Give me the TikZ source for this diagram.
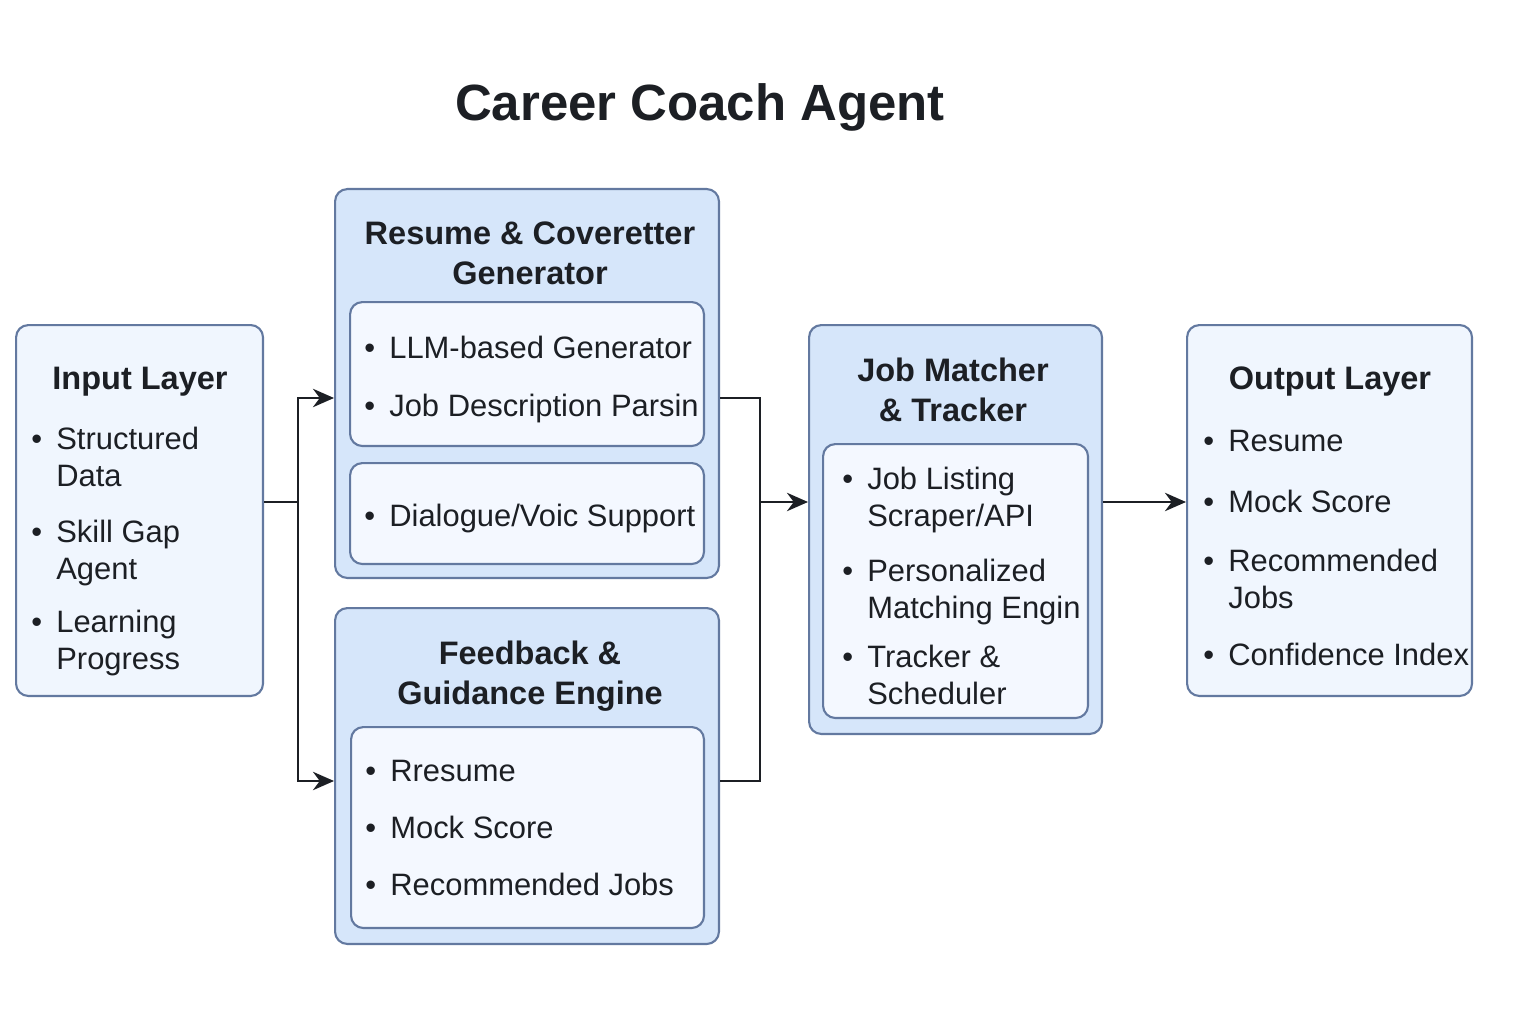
\documentclass[tikz,border=0pt]{standalone}
\usepackage{fontspec}
\setmainfont{Liberation Sans}
\usetikzlibrary{arrows.meta,positioning}
\definecolor{edge}{HTML}{6379A0}
\definecolor{paleblue}{HTML}{F0F6FE}
\definecolor{midblue}{HTML}{D6E6FA}
\definecolor{innerblue}{HTML}{F4F8FF}
\definecolor{ink}{HTML}{1C1F24}
\newcommand{\bul}{\llap{\textbullet\hspace{8pt}}}

\begin{document}
\begin{tikzpicture}[x=0.02cm,y=-0.02cm,
  layer/.style={draw=edge,fill=paleblue,line width=1.2pt,rounded corners=7pt,
    anchor=north west,inner sep=0pt},
  module/.style={layer,fill=midblue},
  inbox/.style={layer,fill=innerblue},
  head/.style={anchor=base,align=center,text=ink,
    font=\fontsize{18.5}{22.5}\selectfont\bfseries},
  entry/.style={anchor=base west,align=left,text=ink,inner sep=0pt,
    font=\fontsize{17.6}{20.5}\selectfont},
  wire/.style={draw=ink,line width=1.1pt},
  feed/.style={wire,-{Stealth[length=12pt,width=10.5pt]}}]
  \useasboundingbox (0,0) rectangle (1536,1024);

  % title (base of a multi-line node is its last line)
  \node[anchor=base,text=ink,font=\fontsize{29}{36}\selectfont\bfseries]
    (title) at (700,121) {Career Coach Agent};

  % input layer
  \node[layer,minimum width=4.94cm,minimum height=7.42cm] (input) at (15,324) {};
  \node[head] (inhead) at (140,389) {Input Layer};
  \node[entry] (in1) at (56,486) {\bul Structured\\Data};
  \node[entry] (in2) at (56,579) {\bul Skill Gap\\Agent};
  \node[entry] (in3) at (56,669) {\bul Learning\\Progress};

  % resume and cover letter generator
  \node[module,minimum width=7.68cm,minimum height=7.78cm] (resume) at (334,188) {};
  \node[head] (reshead) at (530,284) {Resume \& Coveretter\\Generator};
  \node[inbox,minimum width=7.08cm,minimum height=2.88cm] (resgen) at (349,301) {};
  \node[entry] (res1) at (389,358) {\bul LLM-based Generator};
  \node[entry] (res2) at (389,416) {\bul Job Description Parsin};
  \node[inbox,minimum width=7.08cm,minimum height=2.02cm] (resvoice) at (349,462) {};
  \node[entry] (res3) at (389,526) {\bul Dialogue/Voic Support};

  % feedback and guidance engine
  \node[module,minimum width=7.68cm,minimum height=6.72cm] (feedback) at (334,607) {};
  \node[head] (fbhead) at (530,704) {Feedback \&\\Guidance Engine};
  \node[inbox,minimum width=7.06cm,minimum height=4.02cm] (fblist) at (350,726) {};
  \node[entry] (fb1) at (390,781) {\bul Rresume};
  \node[entry] (fb2) at (390,838) {\bul Mock Score};
  \node[entry] (fb3) at (390,895) {\bul Recommended Jobs};

  % job matcher and tracker
  \node[module,minimum width=5.86cm,minimum height=8.18cm] (matcher) at (808,324) {};
  \node[head] (jobhead) at (953,421) {Job Matcher\\\& Tracker};
  \node[inbox,minimum width=5.30cm,minimum height=5.48cm] (joblist) at (822,443) {};
  \node[entry] (job1) at (867,526) {\bul Job Listing\\Scraper/API};
  \node[entry] (job2) at (867,618) {\bul Personalized\\Matching Engin};
  \node[entry] (job3) at (867,704) {\bul Tracker \&\\Scheduler};

  % output layer
  \node[layer,minimum width=5.70cm,minimum height=7.42cm] (output) at (1186,324) {};
  \node[head] (outhead) at (1330,389) {Output Layer};
  \node[entry] (out1) at (1228,451) {\bul Resume};
  \node[entry] (out2) at (1228,512) {\bul Mock Score};
  \node[entry] (out3) at (1228,608) {\bul Recommended\\Jobs};
  \node[entry] (out4) at (1228,665) {\bul Confidence Index};

  % connectors
  \coordinate (fork) at (298,502);
  \coordinate (forkup) at (298,398);
  \coordinate (forkdown) at (298,781);
  \coordinate (join) at (760,502);
  \coordinate (joinup) at (760,398);
  \coordinate (joindown) at (760,781);
  \draw[wire] (input.east |- fork) -- (fork);
  \draw[feed] (fork) -- (forkup) -- (forkup -| resume.west);
  \draw[feed] (fork) -- (forkdown) -- (forkdown -| feedback.west);
  \draw[wire] (joinup -| resume.east) -- (joinup) -- (joindown) -- (joindown -| feedback.east);
  \draw[feed] (join) -- (join -| matcher.west);
  \draw[feed] (join -| matcher.east) -- (join -| output.west);
\end{tikzpicture}
\end{document}
